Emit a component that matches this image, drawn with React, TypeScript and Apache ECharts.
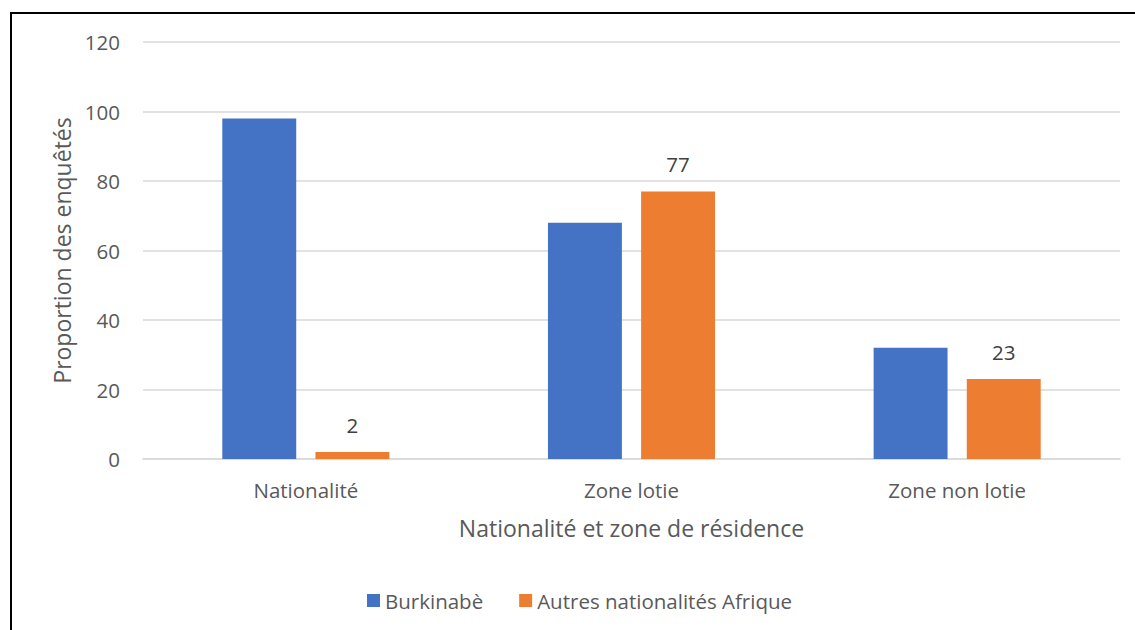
import React, { useEffect, useRef } from "react";
import * as echarts from "echarts";

const categories = ["Nationalité", "Zone lotie", "Zone non lotie"];
const burkinabe = [98, 68, 32];
const autres = [2, 77, 23];
const yTicks = { min: 0, max: 120, interval: 20 };

const FONT = "Open Sans";

export default function App() {
  const ref = useRef<HTMLDivElement>(null);
  useEffect(() => {
    if (!ref.current) return;
    const chart = echarts.init(ref.current, undefined, { renderer: "svg" });
    chart.setOption({
      animation: false,
      backgroundColor: "#ffffff",
      textStyle: { fontFamily: FONT },
      graphic: [
        {
          type: "rect",
          shape: { x: 11, y: 13, width: 1140, height: 640 },
          style: { fill: "none", stroke: "#000000", lineWidth: 2 },
          silent: true,
        },
      ],
      grid: { left: 143, right: 15, top: 42, bottom: 171 },
      legend: {
        data: ["Burkinabè", "Autres nationalités Afrique"],
        top: 585,
        left: 362,
        itemWidth: 13,
        itemHeight: 13,
        itemGap: 36,
        icon: "rect",
        textStyle: { fontSize: 20.5, color: "#595959", fontFamily: FONT },
      },
      xAxis: {
        type: "category",
        data: categories,
        name: "Nationalité et zone de résidence",
        nameLocation: "middle",
        nameGap: 57,
        nameTextStyle: { fontSize: 23, color: "#595959", fontFamily: FONT },
        axisLine: { show: true, lineStyle: { color: "#d9d9d9", width: 1.5 } },
        axisTick: { show: false },
        axisLabel: { fontSize: 20.5, color: "#595959", margin: 20, fontFamily: FONT },
      },
      yAxis: {
        type: "value",
        min: yTicks.min,
        max: yTicks.max,
        interval: yTicks.interval,
        name: "Proportion des enquêtés",
        nameLocation: "middle",
        nameGap: 67,
        nameTextStyle: { fontSize: 23, color: "#595959", fontFamily: FONT },
        axisLine: { show: false },
        axisTick: { show: false },
        axisLabel: { fontSize: 20.5, color: "#595959", margin: 23, fontFamily: FONT },
        splitLine: { lineStyle: { color: "#d9d9d9", width: 1.5 } },
      },
      series: [
        {
          name: "Burkinabè",
          type: "bar",
          data: burkinabe,
          barWidth: "22.7%",
          barGap: "26%",
          itemStyle: { color: "#4472c4" },
        },
        {
          name: "Autres nationalités Afrique",
          type: "bar",
          data: autres,
          barWidth: "22.7%",
          itemStyle: { color: "#ed7d31" },
          label: {
            show: true,
            position: "top",
            distance: 17,
            fontSize: 20.5,
            color: "#404040",
            fontFamily: FONT,
          },
        },
      ],
    });
    return () => chart.dispose();
  }, []);
  return (
    <div style={{ position: "fixed", left: 0, top: 0, width: 1135, height: 630 }}>
      <div ref={ref} style={{ width: 1135, height: 630 }} />
    </div>
  );
}
